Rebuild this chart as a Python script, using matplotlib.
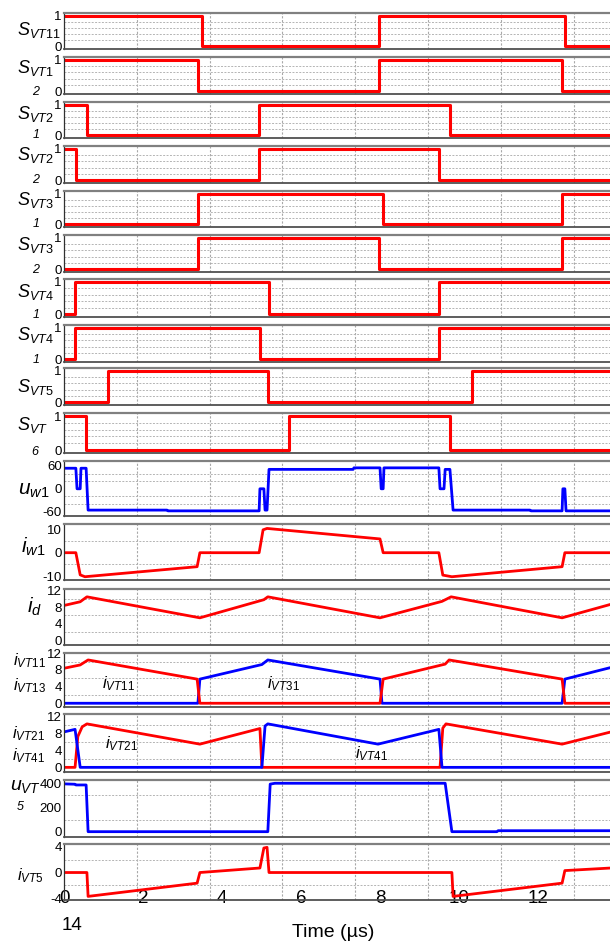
import matplotlib
matplotlib.use('Agg')
import matplotlib.pyplot as plt
import numpy as np

plt.rcParams['font.family'] = 'Liberation Sans'
plt.rcParams['mathtext.fontset'] = 'custom'
plt.rcParams['mathtext.it'] = 'Liberation Sans:italic'
plt.rcParams['mathtext.rm'] = 'Liberation Sans'
plt.rcParams['axes.unicode_minus'] = False

# switching signals (time in us, state after each time)
t_vt11 = [0, 3.49, 7.97, 12.68]; s_vt11 = [1, 0, 1, 0]
t_vt12 = [0, 3.39, 7.97, 12.61]; s_vt12 = [1, 0, 1, 0]
t_vt21 = [0, 0.58, 4.94, 9.77];  s_vt21 = [1, 0, 1, 0]
t_vt22 = [0, 0.30, 4.94, 9.49];  s_vt22 = [1, 0, 1, 0]
t_vt31 = [0, 3.39, 8.08, 12.61]; s_vt31 = [0, 1, 0, 1]
t_vt32 = [0, 3.39, 7.97, 12.61]; s_vt32 = [0, 1, 0, 1]
t_vt41 = [0, 0.28, 5.19, 9.49];  s_vt41 = [0, 1, 0, 1]
t_vt42 = [0, 0.28, 4.96, 9.49];  s_vt42 = [0, 1, 0, 1]
t_vt5 = [0, 1.11, 5.16, 10.33];  s_vt5 = [0, 1, 0, 1]
t_vt6 = [0, 0.56, 5.70, 9.77];   s_vt6 = [1, 0, 1, 0]

# winding voltage u_w1
t_uw1 = [0, 0.30, 0.33, 0.41, 0.43, 0.56, 0.61, 2.61, 2.63, 4.94, 4.96, 5.06, 5.09, 5.14, 5.19,
         7.32, 7.34, 8.00, 8.03, 8.08, 8.10, 9.49, 9.52, 9.62, 9.65, 9.77, 9.85, 11.80, 11.82,
         12.61, 12.63, 12.68, 12.71, 13.85]
uw1 = [54, 54, 0, 0, 54, 54, -56, -56, -58, -58, 0, 0, -56, -56, 51,
       51, 55, 55, 0, 0, 55, 55, 0, 0, 51, 51, -56, -56, -58,
       -58, 0, 0, -58, -58]

# winding current i_w1
t_iw1 = [0, 0.30, 0.41, 0.53, 3.37, 3.44, 4.94, 5.04, 5.14, 8.00, 8.08, 9.49, 9.59, 9.82, 12.61, 12.68, 13.85]
iw1 = [0, 0, -9.5, -10.3, -6.0, 0, 0, 9.8, 10.4, 5.9, 0, 0, -9.6, -10.3, -6.0, 0, 0]

# dc current i_d
t_id = [0, 0.41, 0.58, 3.44, 5.06, 5.16, 8.00, 9.57, 9.80, 12.61, 13.85]
i_d = [8.4, 9.3, 10.5, 5.4, 9.8, 10.5, 5.4, 9.4, 10.5, 5.4, 8.7]

# switch currents
t_ivt11 = [0, 0.41, 0.61, 3.37, 3.44, 8.00, 8.08, 9.65, 9.75, 12.61, 12.68, 13.85]
ivt11 = [8.4, 9.2, 10.4, 5.8, 0, 0, 5.8, 9.4, 10.4, 5.8, 0, 0]
t_ivt31 = [0, 3.39, 3.44, 5.01, 5.16, 8.00, 8.05, 12.61, 12.68, 13.85]
ivt31 = [0, 0, 5.8, 9.3, 10.4, 5.8, 0, 0, 5.8, 8.6]
t_ivt21 = [0, 0.28, 0.35, 0.46, 0.58, 3.44, 4.96, 5.01, 9.52, 9.59, 9.67, 12.61, 13.85]
ivt21 = [0, 0, 7.3, 9.6, 10.3, 5.5, 9.2, 0, 0, 9.3, 10.3, 5.5, 8.4]
t_ivt41 = [0, 0.28, 0.41, 5.01, 5.09, 5.16, 7.95, 9.49, 9.57, 13.85]
ivt41 = [8.4, 9.0, 0, 0, 9.8, 10.3, 5.5, 9.0, 0, 0]

# VT5 voltage and current
t_uvt5 = [0, 0.28, 0.30, 0.56, 0.61, 5.16, 5.22, 5.34, 9.65, 9.82, 10.96, 10.99, 13.85]
uvt5 = [395, 392, 386, 386, 0, 0, 393, 400, 400, 0, 0, 8, 8]
t_ivt5 = [0, 0.58, 0.61, 3.37, 3.44, 4.96, 5.06, 5.14, 5.19, 9.82, 9.85, 12.61, 12.68, 13.85]
ivt5 = [0, 0, -3.7, -1.65, 0, 0.7, 3.8, 3.9, 0, 0, -3.7, -1.65, 0.3, 0.7]

xticks = [0, 2, 4, 6, 8, 10, 12]

W, H = 610, 941
RED, BLUE = '#ff0000', '#0000ff'
XMAX = (611 - 64) / 39.5
xgrid = np.arange(1, 8) * 1.843

fig = plt.figure(figsize=(W / 100, H / 100), dpi=100)

def fx(x): return x / W
def fy(y): return 1 - y / H

def panel(top, bottom, ylim, yticks, ygrid):
    ax = fig.add_axes([fx(64), fy(bottom), fx(611) - fx(64), (bottom - top) / H])
    ax.set_xlim(0, XMAX)
    ax.set_ylim(ylim)
    ax.set_yticks(yticks)
    ax.set_yticks(ygrid, minor=True)
    ax.yaxis.set_minor_formatter(plt.NullFormatter())
    ax.grid(axis='y', which='minor', color='#b4b4b4', ls=(0, (2, 1.5)), lw=0.7)
    for g in xgrid:
        ax.axvline(g, color='#a8a8a8', ls=(0, (2, 1.5)), lw=0.8, zorder=0)
    ax.set_xticks([])
    ax.tick_params(which='both', length=0, labelsize=9.5, pad=1.5)
    ax.spines['right'].set_visible(False)
    ax.spines['top'].set_color('#808080'); ax.spines['top'].set_linewidth(1.6)
    ax.spines['bottom'].set_color('#505050'); ax.spines['bottom'].set_linewidth(1.3)
    ax.spines['left'].set_color('#303030'); ax.spines['left'].set_linewidth(0.9)
    return ax

switch_rows = [(13, 49), (57, 94), (102, 138), (146, 183), (191, 227),
               (235, 272), (279, 317), (325, 362), (368, 405), (413, 453)]
switch_sigs = [(t_vt11, s_vt11), (t_vt12, s_vt12), (t_vt21, s_vt21), (t_vt22, s_vt22),
               (t_vt31, s_vt31), (t_vt32, s_vt32), (t_vt41, s_vt41), (t_vt42, s_vt42),
               (t_vt5, s_vt5), (t_vt6, s_vt6)]
for (top, bot), (t, s) in zip(switch_rows, switch_sigs):
    ax = panel(top, bot, (-0.085, 1.088), [0, 1], np.arange(0.2, 1.0, 0.2))
    ax.step(t + [XMAX], s + [s[-1]], where='post', color=RED, lw=2.2)

ax = panel(461, 516, (-71.5, 73), [-60, 0, 60], np.arange(-40, 60, 20))
ax.plot(t_uw1, uw1, color=BLUE, lw=2.0)

ax = panel(524, 580, (-11.7, 12.3), [-10, 0, 10], [-5, 5])
ax.plot(t_iw1, iw1, color=RED, lw=2.0)

ax = panel(589, 645, (-1.2, 12.4), [0, 4, 8, 12], [2, 6, 10])
ax.plot(t_id, i_d, color=RED, lw=2.0)

ax = panel(653, 707, (-0.9, 12.07), [0, 4, 8, 12], [2, 6, 10])
ax.plot(t_ivt31, ivt31, color=BLUE, lw=2.0)
ax.plot(t_ivt11, ivt11, color=RED, lw=2.0)

ax = panel(714, 772, (-1.1, 12.64), [0, 4, 8, 12], [2, 6, 10])
ax.plot(t_ivt21, ivt21, color=RED, lw=2.0)
ax.plot(t_ivt41, ivt41, color=BLUE, lw=2.0)

ax = panel(780, 837, (-44, 427), [0, 200, 400], [100, 300])
ax.plot(t_uvt5, uvt5, color=BLUE, lw=2.0)

ax = panel(844, 900, (-4.26, 4.42), [-4, 0, 4], [-2, 2])
ax.plot(t_ivt5, ivt5, color=RED, lw=2.0)
ax.set_xticks(xticks)
ax.set_xticklabels([str(v) for v in xticks])
ax.tick_params(axis='x', labelsize=13.5, pad=-7.5)

# axis labels drawn as free text, wrapped like the original
labels = [
    (r'$S_{\mathit{VT11}}$', 17, 35, 13), (r'$S_{\mathit{VT1}}$', 17, 73, 13),
    (r'$S_{\mathit{VT2}}$', 17, 119, 13), (r'$S_{\mathit{VT2}}$', 17, 160, 13),
    (r'$S_{\mathit{VT3}}$', 17, 205, 13), (r'$S_{\mathit{VT3}}$', 17, 250, 13),
    (r'$S_{\mathit{VT4}}$', 17, 297, 13), (r'$S_{\mathit{VT4}}$', 17, 340, 13),
    (r'$S_{\mathit{VT5}}$', 17, 392, 13), (r'$S_{\mathit{VT}}$', 17, 430, 13),
    (r'$u_{\mathit{w1}}$', 18, 495, 15), (r'$i_{\mathit{w1}}$', 21, 553, 15),
    (r'$i_{d}$', 27, 613, 15),
    (r'$i_{\mathit{VT11}}$', 13, 665, 12), (r'$i_{\mathit{VT13}}$', 13, 690, 12),
    (r'$i_{\mathit{VT21}}$', 12, 738, 12), (r'$i_{\mathit{VT41}}$', 12, 760, 12),
    (r'$u_{\mathit{VT}}$', 10, 790, 14), (r'$i_{\mathit{VT5}}$', 17, 880, 12),
    (r'$i_{\mathit{VT11}}$', 102, 688, 12), (r'$i_{\mathit{VT31}}$', 267, 688, 12),
    (r'$i_{\mathit{VT21}}$', 105, 748, 12), (r'$i_{\mathit{VT41}}$', 355, 758, 12),
]
for txt, x, y, fs in labels:
    fig.text(fx(x), fy(y), txt, fontsize=fs, ha='left', va='baseline', zorder=5)

# wrapped subscript digits
for txt, x, y in [('2', 32, 95), ('1', 33, 138), ('2', 32, 183), ('1', 33, 227), ('2', 32, 273),
                  ('1', 33, 318), ('1', 33, 363), ('6', 31, 455), ('5', 17, 810)]:
    fig.text(fx(x), fy(y), txt, fontsize=9, style='italic', ha='left', va='baseline')

fig.text(fx(72), fy(930), '14', fontsize=13.5, ha='center', va='baseline')
fig.text(fx(333), fy(937), 'Time (µs)', fontsize=14, ha='center', va='baseline')

fig.savefig('out.png', dpi=100)
